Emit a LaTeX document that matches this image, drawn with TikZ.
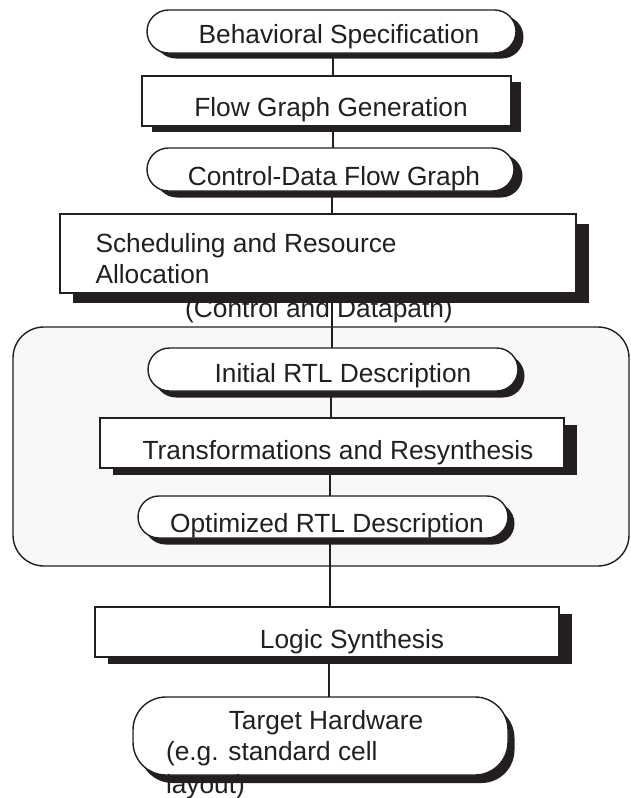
\documentclass[tikz,border=0pt]{standalone}
\usepackage{fontspec}
\setmainfont{Liberation Sans}
\usetikzlibrary{shadows}
\definecolor{ink}{RGB}{35,31,32}
\definecolor{panel}{RGB}{248,248,248}
\begin{document}
\begin{tikzpicture}[x=1pt,y=-1pt,
  shp/.style={draw=ink, line width=1.4pt, fill=white, inner sep=0pt, outer sep=0pt},
  stadium/.style={shp, rounded corners=#1},
  slab/.style={shp},
  shade/.style 2 args={drop shadow={shadow xshift=#1pt, shadow yshift=-#2pt, fill=ink, opacity=1}},
  group/.style={draw=ink, line width=1.4pt, fill=panel, rounded corners=31pt, inner sep=0pt, outer sep=0pt},
  lbl/.style={font=\fontsize{26.3}{30}\selectfont, text=ink, inner sep=0pt, outer sep=0pt, anchor=base},
  conn/.style={draw=ink, line width=1.4pt}]

\useasboundingbox (0,0) rectangle (631,798);
\fill[white] (0,0) rectangle (631,798);

% grouping panel for the RTL stage
\node[group, minimum width=616pt, minimum height=239pt] (grp) at (321,446.5) {};

% flow steps
\node[stadium=21.5pt, shade={7.5}{5.5}, minimum width=369pt, minimum height=43pt] (bs)  at (331.5,31.5) {};
\node[slab, shade={10}{6}, minimum width=369pt, minimum height=50pt]               (fg)  at (326.5,101) {};
\node[stadium=21.5pt, shade={8.5}{6.5}, minimum width=367pt, minimum height=43pt] (cd)  at (330.5,169.5) {};
\node[slab, shade={13}{10}, minimum width=516pt, minimum height=79pt]              (sch) at (318,253.5) {};
\node[stadium=21.5pt, shade={6.5}{6.5}, minimum width=370pt, minimum height=43pt] (ir)  at (333,369.5) {};
\node[slab, shade={13}{7}, minimum width=464pt, minimum height=50pt]               (tr)  at (332,443) {};
\node[stadium=21pt, shade={6.5}{6.5}, minimum width=370pt, minimum height=42pt]   (or)  at (323,517) {};
\node[slab, shade={13}{7}, minimum width=464pt, minimum height=50pt]               (ls)  at (327,632) {};
\node[stadium=33pt, shade={6.5}{8}, minimum width=375pt, minimum height=78pt]     (th)  at (320.5,736) {};

% labels
\node[lbl] (bs-t) at (339,43) {Behavioral Specification};
\node[lbl] (fg-t) at (331,116) {Flow Graph Generation};
\node[lbl] (cd-t) at (334,185) {Control-Data Flow Graph};
\node[lbl, anchor=base west] (sch-t1) at (95.5,252) {Scheduling and Resource};
\node[lbl, anchor=base west] (sch-t2) at (95.5,283) {Allocation};
\node[lbl] (cdp-t) at (319,317) {(Control and Datapath)};
\node[lbl] (ir-t) at (343,382) {Initial RTL Description};
\node[lbl] (tr-t) at (338,459) {Transformations and Resynthesis};
\node[lbl] (or-t) at (327,532) {Optimized RTL Description};
\node[lbl] (ls-t) at (352,648) {Logic Synthesis};
\node[lbl] (th-t) at (326,729) {Target Hardware};
\node[lbl, anchor=base west] (th-t2) at (166,760) {(e.g. standard cell};
\node[lbl, anchor=base west] (th-t3) at (166,793) {layout)};

% vertical spine positions
\coordinate (x1) at (333,0);
\coordinate (x2) at (332,0);
\coordinate (x3) at (331,0);
\coordinate (x4) at (330,0);
\coordinate (x5) at (329,0);

% connectors
\draw[conn] (bs.south -| x1) -- (fg.north -| x1);
\draw[conn] (fg.south -| x1) -- (cd.north -| x1);
\draw[conn] (cd.south -| x2) -- (sch.north -| x2);
\draw[conn] (sch.south -| x2) -- (ir.north -| x2);
\draw[conn] (ir.south -| x3) -- (tr.north -| x3);
\draw[conn] (tr.south -| x4) -- (or.north -| x4);
\draw[conn] (or.south -| x4) -- (ls.north -| x4);
\draw[conn] (ls.south -| x5) -- (th.north -| x5);
\end{tikzpicture}
\end{document}
